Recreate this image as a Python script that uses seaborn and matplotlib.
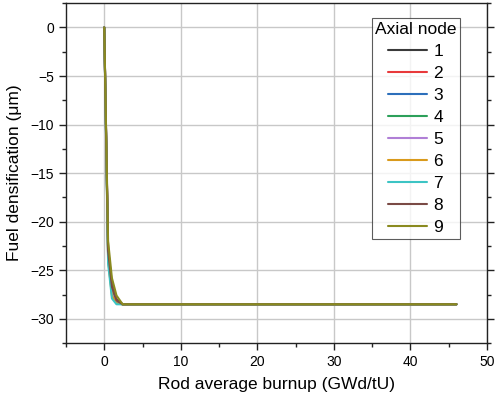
import matplotlib
matplotlib.use("Agg")
import matplotlib.pyplot as plt
import seaborn as sns
import pandas as pd
from matplotlib.ticker import MultipleLocator

# Data
burnup = [0.0, 0.5, 1.0, 1.6, 2.4, 5.0, 10.0, 20.0, 30.0, 40.0, 46.0]
dens = {
    "1": [0, -22.8, -26.4, -28.0, -28.5, -28.5, -28.5, -28.5, -28.5, -28.5, -28.5],
    "2": [0, -22.9, -26.6, -28.1, -28.5, -28.5, -28.5, -28.5, -28.5, -28.5, -28.5],
    "3": [0, -23.2, -26.9, -28.2, -28.5, -28.5, -28.5, -28.5, -28.5, -28.5, -28.5],
    "4": [0, -23.5, -27.2, -28.3, -28.5, -28.5, -28.5, -28.5, -28.5, -28.5, -28.5],
    "5": [0, -23.7, -27.4, -28.4, -28.5, -28.5, -28.5, -28.5, -28.5, -28.5, -28.5],
    "6": [0, -23.9, -27.6, -28.4, -28.5, -28.5, -28.5, -28.5, -28.5, -28.5, -28.5],
    "7": [0, -24.3, -27.9, -28.5, -28.5, -28.5, -28.5, -28.5, -28.5, -28.5, -28.5],
    "8": [0, -23.0, -26.7, -28.1, -28.5, -28.5, -28.5, -28.5, -28.5, -28.5, -28.5],
    "9": [0, -22.0, -25.8, -27.6, -28.5, -28.5, -28.5, -28.5, -28.5, -28.5, -28.5],
}
nodes = list(dens.keys())
colors = ["#3a3a3a", "#e8393b", "#2c6fbb", "#2ca05a", "#b07fd6",
          "#d99a1c", "#3cc4c4", "#7a4a45", "#8a8a1f"]

rows = []
for n in nodes:
    for b, d in zip(burnup, dens[n]):
        rows.append({"burnup": b, "dens": d, "node": n})
df = pd.DataFrame(rows)

sns.set_style("white")
plt.rcParams["font.family"] = ["Liberation Sans", "DejaVu Sans"]
plt.rcParams["text.color"] = "black"
plt.rcParams["axes.labelcolor"] = "black"
plt.rcParams["xtick.color"] = "#222222"
plt.rcParams["ytick.color"] = "#222222"
plt.rcParams["xtick.labelcolor"] = "black"
plt.rcParams["ytick.labelcolor"] = "black"

fig = plt.figure(figsize=(4.98, 3.99), dpi=100)
ax = fig.add_axes([0.1325, 0.14, 0.978 - 0.1325, 0.992 - 0.14])

sns.lineplot(data=df, x="burnup", y="dens", hue="node", hue_order=nodes,
             palette=colors, linewidth=1.5, ax=ax, sort=False, estimator=None)

ax.set_xlim(-5, 50)
ax.set_ylim(-32.5, 2.5)
ax.xaxis.set_major_locator(MultipleLocator(10))
ax.xaxis.set_minor_locator(MultipleLocator(5))
ax.yaxis.set_major_locator(MultipleLocator(5))
ax.yaxis.set_minor_locator(MultipleLocator(2.5))
ax.grid(True, which="major", color="#c8c8c8", linewidth=1.0)
ax.set_axisbelow(True)

for s in ax.spines.values():
    s.set_visible(True)
    s.set_color("#222222")
    s.set_linewidth(1.0)

ax.tick_params(which="both", direction="out", bottom=True, left=True,
               right=True, top=False, labelsize=10)
ax.tick_params(which="major", length=5, width=1)
ax.tick_params(which="minor", length=3, width=1)

ax.set_xlabel("Rod average burnup (GWd/tU)", fontsize=12.5, labelpad=6)
ax.set_ylabel("Fuel densification (μm)", fontsize=12.5, labelpad=6)

leg = ax.legend(title="Axial node", loc="upper right", bbox_to_anchor=(0.936, 0.956),
                fontsize=12.5, title_fontsize=12.5, frameon=True, fancybox=False,
                handlelength=2.25, handletextpad=0.35, labelspacing=0.4,
                borderpad=0.2, borderaxespad=0.0)
leg.get_frame().set_edgecolor("#333333")
leg.get_frame().set_linewidth(0.8)

fig.savefig("out.png", dpi=100)
